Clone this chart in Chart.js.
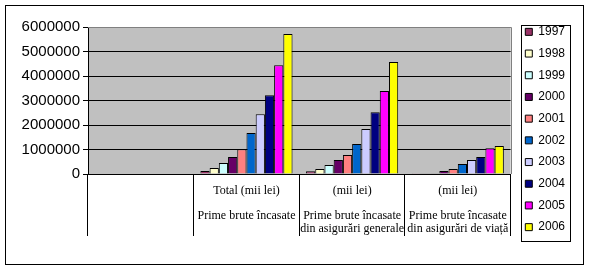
<!DOCTYPE html>
<html>
<head>
<meta charset="utf-8">
<script src="https://cdn.jsdelivr.net/npm/chart.js@4/dist/chart.umd.min.js"></script>
<style>
  body { margin: 0; background: #fff; }
</style>
</head>
<body>
<canvas id="grafic" width="590" height="270"></canvas>
<script>
// categorii (etichete pe mai multe randuri)
const categorii = [
    [""],
    ["Total (mii lei)", "", "Prime brute încasate"],
    ["(mii lei)", "", "Prime brute încasate", "din asigurări generale"],
    ["(mii lei)", "", "Prime brute încasate", "din asigurări de viață"]
];
const ani = ["1997", "1998", "1999", "2000", "2001", "2002", "2003", "2004", "2005", "2006"];
const culori = ["#993366", "#FFFFCC", "#CCFFFF", "#660066", "#FF8080", "#0066CC", "#CCCCFF", "#000080", "#FF00FF", "#FFFF00"];

// valori (mii lei)
const total    = [122000, 245000, 449000, 694000, 1008000, 1670000, 2440000, 3210000, 4440000, 5710000];
const generale = [110000, 204000, 367000, 571000, 776000, 1220000, 1840000, 2520000, 3390000, 4570000];
const viata    = [8000, 15000, 30000, 122000, 204000, 408000, 571000, 694000, 1050000, 1140000];

const yTicks = [0, 1000000, 2000000, 3000000, 4000000, 5000000, 6000000];

const seturi = ani.map((an, i) => ({
    label: an,
    data: [null, total[i], generale[i], viata[i]],
    backgroundColor: culori[i],
    borderColor: '#000',
    borderWidth: 1,
    categoryPercentage: 0.872,
    barPercentage: 1
}));

const fundal = {
    id: 'fundal',
    beforeDraw(chart) {
        const {ctx, chartArea: a} = chart;
        ctx.save();
        ctx.fillStyle = '#C0C0C0';
        ctx.fillRect(a.left, a.top, a.right - a.left, a.bottom - a.top);
        ctx.restore();
    },
    afterDraw(chart) {
        const {ctx, chartArea: a} = chart;
        ctx.save();
        ctx.lineWidth = 1;
        // margine gri sus si dreapta
        ctx.strokeStyle = '#808080';
        ctx.beginPath();
        ctx.moveTo(a.left, Math.round(a.top) + 0.5);
        ctx.lineTo(Math.round(a.right) + 0.5, Math.round(a.top) + 0.5);
        ctx.lineTo(Math.round(a.right) + 0.5, a.bottom);
        ctx.stroke();
        // cadru legenda
        const hb = chart.legend.legendHitBoxes;
        if (hb && hb.length) {
            const st = Math.min(...hb.map(h => h.left)) - 4;
            const dr = Math.max(...hb.map(h => h.left + h.width)) + 5;
            const sus = hb[0].top - 1;
            const jos = hb[hb.length - 1].top + hb[hb.length - 1].height + 8;
            ctx.strokeStyle = '#000';
            ctx.strokeRect(Math.round(st) + 0.5, Math.round(sus) + 0.5, Math.round(dr - st), Math.round(jos - sus));
        }
        // cadru exterior
        ctx.strokeStyle = '#000';
        ctx.strokeRect(5.5, 5.5, 578, 259);
        ctx.restore();
    }
};

Chart.defaults.color = '#000';
Chart.defaults.font.family = 'Arial, "Liberation Sans", sans-serif';

new Chart(document.getElementById('grafic'), {
    type: 'bar',
    data: { labels: categorii, datasets: seturi },
    options: {
        responsive: false,
        animation: false,
        devicePixelRatio: 1,
        layout: { padding: { top: 5, left: 5, right: 15, bottom: 16 } },
        plugins: {
            title: { display: true, text: ' ', fullSize: false, padding: 0, font: { size: 22, lineHeight: 1 } },
            tooltip: { enabled: false },
            legend: {
                position: 'right',
                labels: {
                    boxWidth: 7,
                    boxHeight: 7,
                    padding: 9.7,
                    font: { size: 12 },
                    color: '#000'
                }
            }
        },
        scales: {
            x: {
                grid: {
                    offset: true,
                    drawOnChartArea: false,
                    tickLength: 62,
                    color: '#000'
                },
                border: { color: '#000' },
                ticks: {
                    autoSkip: false,
                    maxRotation: 0,
                    minRotation: 0,
                    padding: -51,
                    font: { family: '"Liberation Serif", "Times New Roman", serif', size: 12, lineHeight: '12.5px' },
                    color: '#000'
                },
                afterFit: s => { s.height = 80; }
            },
            y: {
                min: 0,
                max: 6000000,
                afterBuildTicks: s => { s.ticks = yTicks.map(v => ({ value: v })); },
                grid: {
                    color: c => c.tick && c.tick.value === 6000000 ? '#808080' : '#000',
                    tickLength: 5,
                    tickColor: '#000'
                },
                border: { color: '#000' },
                ticks: {
                    padding: 3,
                    font: { size: 15 },
                    color: '#000',
                    callback: v => String(v)
                },
                afterFit: s => { s.width = 83; }
            },
            gol: {
                position: 'right',
                display: true,
                grid: { display: false },
                border: { display: false },
                ticks: { display: false },
                afterFit: s => { s.width = 5; }
            }
        }
    },
    plugins: [fundal]
});
</script>
</body>
</html>
